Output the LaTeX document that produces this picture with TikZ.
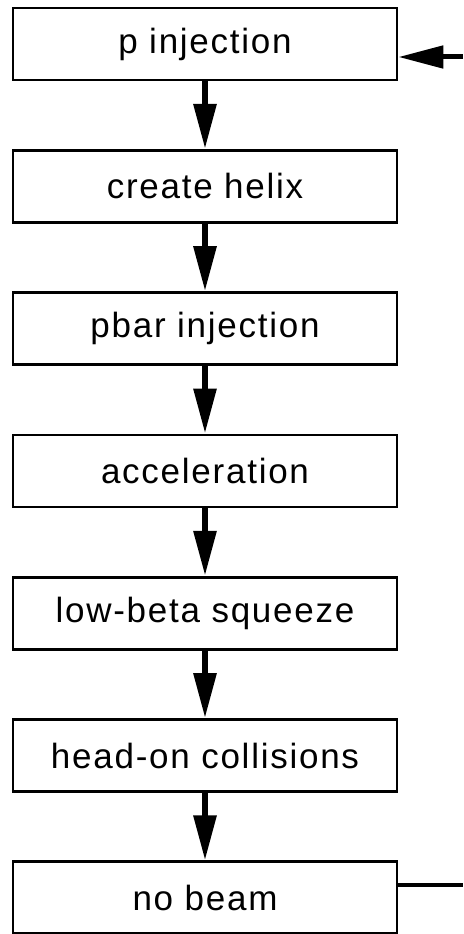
\documentclass[tikz,border=0pt]{standalone}
\usepackage{fontspec}
\newfontfamily\boxfont[LetterSpace=5]{Liberation Sans}
\usetikzlibrary{positioning,arrows.meta}
\begin{document}
\begin{tikzpicture}[x=1pt, y=1pt, font=\boxfont\fontsize{35}{40}\selectfont,
	box/.style={draw, line width=2.8pt, minimum width=384pt, minimum height=72pt, inner sep=0pt},
	flow/.style={line width=6pt, -{Triangle[length=45pt,width=22pt]}}]
	\useasboundingbox (0,0) rectangle (463,-934);
	% the run cycle
	\node[box] (pinj) at (205,-44) {p injection};
	\node[box, below=67.5pt of pinj] (helix) {create helix};
	\node[box, below=67.5pt of helix] (pbar) {pbar injection};
	\node[box, below=67.5pt of pbar] (accel) {acceleration};
	\node[box, below=67.5pt of accel] (squeeze) {low-beta squeeze};
	\node[box, below=67.5pt of squeeze] (coll) {head-on collisions};
	\node[box, below=67.5pt of coll] (nobeam) {no beam};
	\foreach \a/\b in {pinj/helix, helix/pbar, pbar/accel, accel/squeeze, squeeze/coll, coll/nobeam}
		\draw[flow] (\a) -- (\b);
	% loop back in from the right
	\coordinate (in) at (463,-57);
	\coordinate (out) at (463,-885);
	\draw[flow, line width=5pt] (in) -- (in -| pinj.east);
	\draw[line width=4pt] (out -| nobeam.east) -- (out);
\end{tikzpicture}
\end{document}
